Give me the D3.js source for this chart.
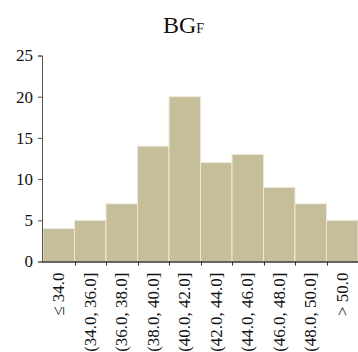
<!DOCTYPE html>
<html>
<head>
<meta charset="utf-8">
<script src="https://cdn.jsdelivr.net/npm/d3@7"></script>
<style>
  html, body { margin: 0; padding: 0; background: #fff; }
  svg { display: block; font-family: "Liberation Serif", "Times New Roman", serif; }
</style>
</head>
<body>
<svg id="chart" width="358" height="352"></svg>
<script>
// Histogram bins and their counts
const categories = ["≤ 34.0", "(34.0, 36.0]", "(36.0, 38.0]", "(38.0, 40.0]", "(40.0, 42.0]",
                    "(42.0, 44.0]", "(44.0, 46.0]", "(46.0, 48.0]", "(48.0, 50.0]", "> 50.0"];
const counts = [4, 5, 7, 14, 20, 12, 13, 9, 7, 5];
const yTicks = [0, 5, 10, 15, 20, 25];

const svg = d3.select("#chart");
const m = { left: 43, right: 358, top: 55.5, bottom: 261.5 };

const x = d3.scaleBand().domain(categories).range([m.left, m.right]).padding(0);
const y = d3.scaleLinear().domain([0, 25]).range([m.bottom, m.top]);

// Bars
svg.append("g").selectAll("rect").data(counts).join("rect")
  .attr("x", (d, i) => x(categories[i]))
  .attr("y", d => y(d))
  .attr("width", x.bandwidth())
  .attr("height", d => y(0) - y(d))
  .attr("fill", "#c5be99")
  .attr("stroke", "#ece9dc")
  .attr("stroke-width", 1);

// Y axis
const yAxis = svg.append("g")
  .attr("transform", `translate(${m.left - 1},0)`)
  .call(d3.axisLeft(y).tickValues(yTicks).tickSize(4).tickSizeOuter(4).tickPadding(5));
yAxis.select(".domain").attr("stroke", "#555");
yAxis.selectAll(".tick line").attr("stroke", "#555");
yAxis.selectAll(".tick text")
  .attr("font-family", "Liberation Serif, serif")
  .attr("font-size", 17).attr("fill", "#111");

// X axis: ticks at bin boundaries
const edges = categories.map(c => x(c)).concat([x(categories[categories.length - 1]) + x.bandwidth()]);
const xg = svg.append("g");
xg.append("line")
  .attr("x1", m.left - 1).attr("x2", m.right)
  .attr("y1", m.bottom + 0.5).attr("y2", m.bottom + 0.5)
  .attr("stroke", "#333").attr("stroke-width", 1.3);
xg.selectAll("line.tk").data(edges.slice(1, -1)).join("line")
  .attr("class", "tk")
  .attr("x1", d => Math.round(d) + 0.5).attr("x2", d => Math.round(d) + 0.5)
  .attr("y1", m.bottom).attr("y2", m.bottom + 4)
  .attr("stroke", "#333");

// Rotated bin labels
xg.selectAll("text").data(categories).join("text")
  .attr("transform", d => `translate(${x(d) + x.bandwidth() / 2 + 5.5},${m.bottom + 11}) rotate(-90)`)
  .attr("text-anchor", "end")
  .attr("font-size", 17)
  .attr("fill", "#111")
  .text(d => d);

// Title with subscript
const title = svg.append("text")
  .attr("x", 163).attr("y", 33)
  .attr("text-anchor", "start")
  .attr("font-size", 24)
  .attr("fill", "#111");
title.append("tspan").text("BG");
title.append("tspan").attr("font-size", 14).text("F");
</script>
</body>
</html>
